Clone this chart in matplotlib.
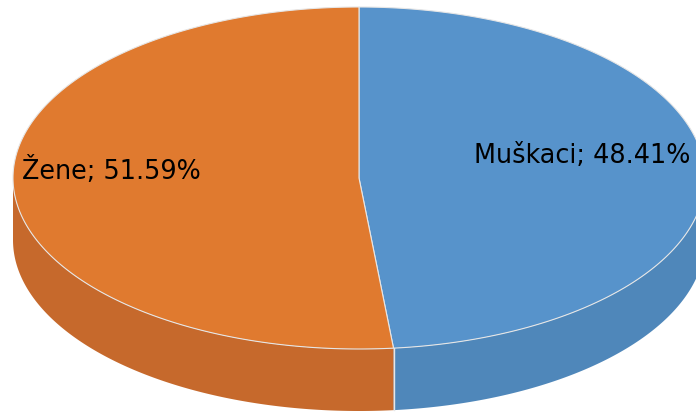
import numpy as np
import matplotlib.pyplot as plt
from matplotlib.patches import Polygon

labels = ['Muškaci', 'Žene']
values = [48.41, 51.59]
top_colors = ['#5793CB', '#E07A2F']
side_colors = ['#4F87BA', '#C6692C']
label_pos = [(474, 156), (22, 171)]

W, H = 696, 412
fig = plt.figure(figsize=(6.96, 4.12), dpi=100)
ax = fig.add_axes([0, 0, 1, 1])
ax.set_xlim(0, W)
ax.set_ylim(H, 0)
ax.axis('off')

cx, cy, a, b, d = 359, 178, 346, 171, 62


def pt(theta_deg):
    t = np.radians(theta_deg)
    return cx + a * np.sin(t), cy - b * np.cos(t)


fracs = np.array(values) / sum(values)
ends = np.cumsum(fracs) * 360
starts = np.concatenate([[0], ends[:-1]])

edge = '#E6E6E6'
for s, e, c in zip(starts, ends, side_colors):
    lo, hi = max(s, 90), min(e, 270)
    if lo < hi:
        th = np.linspace(lo, hi, 300)
        x, y = pt(th)
        poly = np.column_stack([np.concatenate([x, x[::-1]]),
                                np.concatenate([y, (y + d)[::-1]])])
        ax.add_patch(Polygon(poly, closed=True, fc=c, ec='none'))
for s in starts:
    if 90 < s < 270:
        x, y = pt(s)
        ax.plot([x, x], [y, y + d], color=edge, lw=1.0)

for s, e, c in zip(starts, ends, top_colors):
    th = np.linspace(s, e, 400)
    x, y = pt(th)
    poly = np.column_stack([np.concatenate([[cx], x]), np.concatenate([[cy], y])])
    ax.add_patch(Polygon(poly, closed=True, fc=c, ec=edge, lw=0.8))

for (lx, ly), lab, v in zip(label_pos, labels, values):
    ax.text(lx, ly, f'{lab}; {v:.2f}%', fontsize=18.4, va='center', ha='left', color='black')

fig.savefig('out.png', dpi=100)
